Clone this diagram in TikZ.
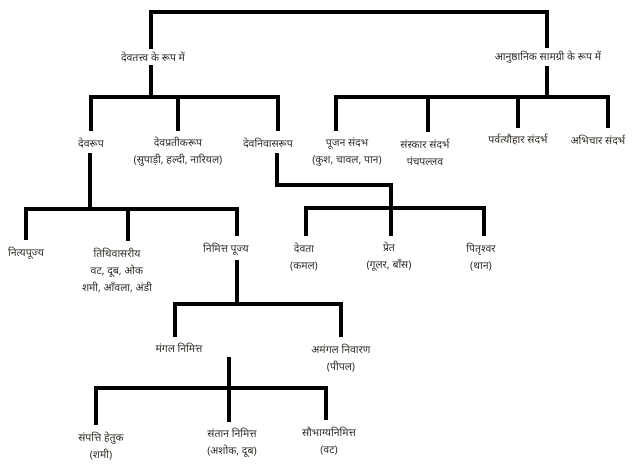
\documentclass[tikz,border=0pt]{standalone}
\usepackage{fontspec}
\newfontfamily\dev[Script=Devanagari]{Noto Sans}
\definecolor{txtgray}{RGB}{50,45,40}
\begin{document}
\begin{tikzpicture}[x=1pt,y=-1pt,
  lbl/.style={font=\dev\fontsize{10.5}{17}\selectfont, text=txtgray, align=center, inner xsep=1pt, inner ysep=0pt},
  bar/.style={line width=3.4pt, line cap=rect}]
\useasboundingbox (0,0) rectangle (640,471);

% labels
\node[lbl] (dtattva) at (153,57) {देवतत्त्व के रूप में};
\node[lbl] (asamagri) at (548,57) {आनुष्ठानिक सामग्री के रूप में};
\node[lbl] (devrup) at (91,143) {देवरूप};
\node[lbl] (devpratik) at (178,152) {देवप्रतीकरूप\\(सुपाड़ी, हल्दी, नारियल)};
\node[lbl] (devnivas) at (268,143) {देवनिवासरूप};
\node[lbl] (pujan) at (347,152) {पूजन संदभ\\(कुश, चावल, पान)};
\node[lbl] (sanskar) at (425,152) {संस्कार संदर्भ\\पंचपल्लव};
\node[lbl] (parv) at (518,140) {पर्वत्यौहार संदर्भ};
\node[lbl] (abhichar) at (598,140) {अभिचार संदर्भ};
\node[lbl] (nitya) at (26,253) {नित्यपूज्य};
\node[lbl] (tithi) at (117,270) {तिथिवासरीय\\वट, दूब, ओक\\शमी, आँवला, अंडी};
\node[lbl] (nimitta) at (226,249) {निमित्त पूज्य};
\node[lbl] (devata) at (304,257) {देवता\\(कमल)};
\node[lbl] (pret) at (389,257) {प्रेत\\(गूलर, बाँस)};
\node[lbl] (pitri) at (481,257) {पितृश्वर\\(थान)};
\node[lbl] (mangal) at (179,348) {मंगल निमित्त};
\node[lbl] (amangal) at (341,358) {अमंगल निवारण\\(पीपल)};
\node[lbl] (sampatti) at (101,446) {संपत्ति हेतुक\\(शमी)};
\node[lbl] (santan) at (232,443) {संतान निमित्त\\(अशोक, दूब)};
\node[lbl] (saubhagya) at (329,441) {सौभाग्यनिमित्त\\(वट)};

% junctions
\coordinate (topL) at (151,12);
\coordinate (topR) at (547,12);
\coordinate (jdt) at (151,97);
\coordinate (jas) at (547,97);
\coordinate (jdr) at (90,209);
\coordinate (kdn) at (277,185);
\coordinate (jdn) at (391,208);
\coordinate (jnm) at (237,304);
\coordinate (jmg) at (229,388);

% top
\draw[bar, shorten <=4pt, shorten >=4pt] (dtattva.north -| topL) |- (topR) -- (asamagri.north -| topR);

% devtattva
\draw[bar, shorten <=4pt] (dtattva.south -| jdt) -- (jdt);
\draw[bar, shorten <=8pt, shorten >=8pt] (devrup.north) |- (jdt) -| ([xshift=10pt]devnivas.north);
\draw[bar, shorten >=8pt] (jdt -| devpratik.north) -- (devpratik.north);

% samagri
\draw[bar, shorten <=4pt] (asamagri.south -| jas) -- (jas);
\draw[bar, shorten <=8pt, shorten >=8pt] ([xshift=-11pt]pujan.north) |- (jas) -| ([xshift=10pt]abhichar.north);
\draw[bar, shorten >=8pt] ([xshift=3pt]sanskar.north |- jas) -- ([xshift=3pt]sanskar.north);
\draw[bar, shorten >=8pt] (jas -| parv.north) -- (parv.north);

% devrup
\draw[bar, shorten <=6pt] (devrup.south -| jdr) -- (jdr);
\draw[bar, shorten <=8pt, shorten >=8pt] (nitya.north) |- (jdr) -| ([xshift=11pt]nimitta.north);
\draw[bar, shorten >=8pt] ([xshift=11pt]tithi.north |- jdr) -- ([xshift=11pt]tithi.north);

% devnivas
\draw[bar, shorten <=6pt] (devnivas.south -| kdn) -- (kdn) -| (jdn);
\draw[bar, shorten <=8pt, shorten >=8pt] ([xshift=2pt]devata.north) |- (jdn) -| ([xshift=3pt]pitri.north);
\draw[bar, shorten >=8pt] (jdn) -- (pret.north -| jdn);

% nimitta
\draw[bar, shorten <=6pt] (nimitta.south -| jnm) -- (jnm);
\draw[bar, shorten <=8pt, shorten >=8pt] ([xshift=-4pt]mangal.north) |- (jnm) -| (amangal.north);

% mangal
\draw[bar, shorten <=6pt] (mangal.south -| jmg) -- (jmg);
\draw[bar, shorten <=8pt, shorten >=8pt] ([xshift=-5pt]sampatti.north) |- (jmg) -| ([xshift=-3pt]saubhagya.north);
\draw[bar, shorten >=8pt] (jmg) -- (santan.north -| jmg);
\end{tikzpicture}
\end{document}
